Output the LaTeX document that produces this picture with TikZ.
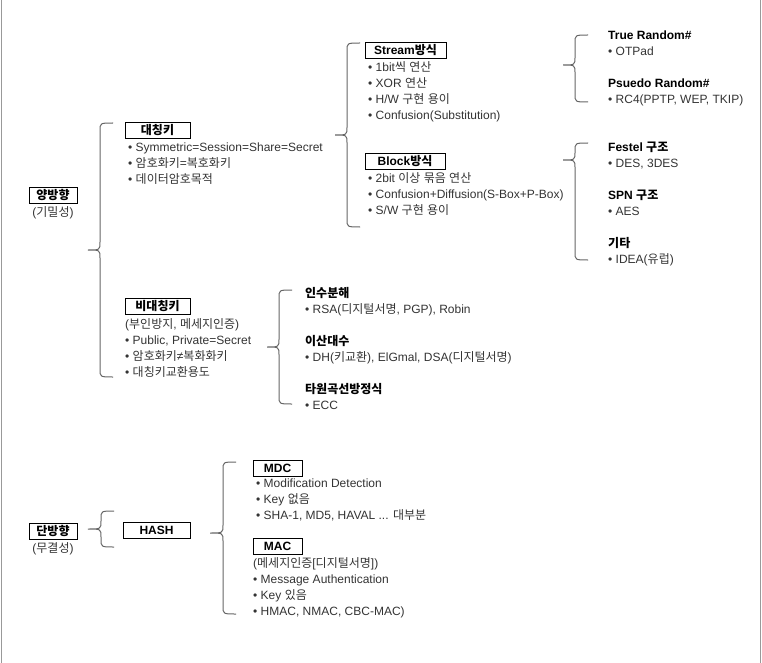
\documentclass[tikz,border=0pt]{standalone}
\usepackage{fontspec}
\setmainfont{Liberation Sans}
\newfontfamily\krfont{Noto Sans CJK KR}
% hangul syllables go to the korean font
\XeTeXinterchartokenstate=1
\newXeTeXintercharclass\hangul
\count255="AC00
\loop
  \XeTeXcharclass\count255=\hangul
  \ifnum\count255<"D7A3 \advance\count255 by 1
\repeat
\XeTeXinterchartoks 0 \hangul = {\krfont}
\XeTeXinterchartoks 4095 \hangul = {\krfont}
\XeTeXinterchartoks \hangul 0 = {\rmfamily}
\XeTeXinterchartoks \hangul 4095 = {\rmfamily}
\usetikzlibrary{positioning}
\newcommand{\base}{\fontsize{12}{16}\selectfont}
\newcommand{\ttl}[1]{\textcolor{black}{\bfseries #1}}
\tikzset{
  hdr/.style={draw, line width=0.8pt, minimum height=16pt, inner sep=0pt, font=\base\bfseries, text=black},
  body/.style={anchor=north west, align=left, inner sep=0pt, font=\base, text=black!80, execute at begin node=\strut},
  note/.style={inner sep=0pt, font=\base, text=black!80},
  curly/.style={draw=black!60, line width=1pt}
}
% brace: x of stem, x of tip, top y, tip y, bottom y
\newcommand{\cbrace}[5]{%
  \draw[curly] (#1+13,#3) .. controls (#1,#3) .. (#1,#3+8) -- (#1,#4-8)
    .. controls (#1,#4) .. (#2,#4) .. controls (#1,#4) .. (#1,#4+8)
    -- (#1,#5-8) .. controls (#1,#5) .. (#1+13,#5);}

\begin{document}
\begin{tikzpicture}[x=1pt, y=-1pt]
  \useasboundingbox (0,0) rectangle (762,663);
  \draw[black!40] (1,0) -- (1,663);
  \draw[black!40] (760.5,0) -- (760.5,663);

  % two-way
  \node[hdr, minimum width=48pt] (yang) at (53,195) {양방향};
  \node[note, below=2.5pt of yang] (yangnote) {(기밀성)};
  \cbrace{100}{88}{123}{250}{377}

  \node[hdr, minimum width=65pt] (sym) at (157.5,130.5) {대칭키};
  \node[body] (symlist) at (128,142.8) {• Symmetric=Session=Share=Secret\\• 암호화키=복호화키\\• 데이터암호목적};
  \cbrace{347}{335}{43}{135}{227}

  \node[hdr, minimum width=81pt] (stream) at (405.5,50.5) {Stream방식};
  \node[body] (streamlist) at (368,61.8) {• 1bit씩 연산\\• XOR 연산\\• H/W 구현 용이\\• Confusion(Substitution)};
  \cbrace{575}{563}{35}{65}{102}
  \node[body] (rand) at (608,30.8) {\ttl{True Random\#}\\• OTPad\\[16pt]\ttl{Psuedo Random\#}\\• RC4(PPTP, WEP, TKIP)};

  \node[hdr, minimum width=80pt] (block) at (405,161) {Block방식};
  \node[body] (blocklist) at (368,172.8) {• 2bit 이상 묶음 연산\\• Confusion+Diffusion(S-Box+P-Box)\\• S/W 구현 용이};
  \cbrace{575}{563}{143}{160}{260}
  \node[body] (struct) at (608,141.8) {\ttl{Festel 구조}\\• DES, 3DES\\[16pt]\ttl{SPN 구조}\\• AES\\[16pt]\ttl{기타}\\• IDEA(유럽)};

  \node[hdr, minimum width=65pt] (asym) at (157.5,306) {비대칭키};
  \node[body] (asymlist) at (125,318.8) {(부인방지, 메세지인증)\\• Public, Private=Secret\\• 암호화키≠복화화키\\• 대칭키교환용도};
  \cbrace{279}{267}{290}{347}{404}
  \node[body] (pk) at (305,286.8) {\ttl{인수분해}\\• RSA(디지털서명, PGP), Robin\\[16pt]\ttl{이산대수}\\• DH(키교환), ElGmal, DSA(디지털서명)\\[16pt]\ttl{타원곡선방정식}\\• ECC};

  % one-way
  \node[hdr, minimum width=48pt] (dan) at (53,531) {단방향};
  \node[note, below=2.5pt of dan] (dannote) {(무결성)};
  \cbrace{101}{88}{511}{529}{547}
  \node[hdr, minimum width=67pt] (hash) at (156.5,530) {HASH};
  \cbrace{223}{210}{462}{533}{614}

  \node[hdr, minimum width=49pt] (mdc) at (277.5,468) {MDC};
  \node[body] (mdclist) at (256,478.8) {• Modification Detection\\• Key 없음\\• SHA-1, MD5, HAVAL ... 대부분};
  \node[hdr, minimum width=49pt] (mac) at (277.5,546) {MAC};
  \node[body] (maclist) at (253,557.8) {(메세지인증[디지털서명])\\• Message Authentication\\• Key 있음\\• HMAC, NMAC, CBC-MAC)};
\end{tikzpicture}
\end{document}
